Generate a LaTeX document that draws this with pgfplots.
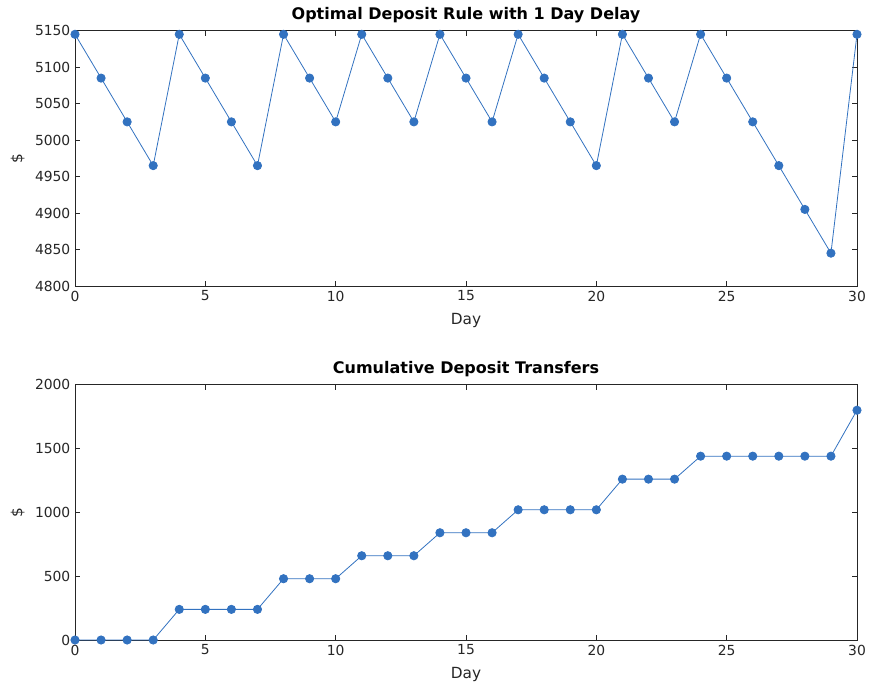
\documentclass[border=0pt]{standalone}
\usepackage{pgfplots}
\pgfplotsset{compat=1.18}
\usepackage{fontspec}
\setmainfont{DejaVu Sans}
\definecolor{ser}{RGB}{50,114,192}
\definecolor{axc}{RGB}{38,38,38}
\pgfplotsset{
  myax/.style={
    scale only axis, width=586.5pt, height=191.5pt,
    xmin=0, xmax=30, xtick={0,5,...,30},
    tick align=inside, major tick length=4pt,
    axis line style={axc, line width=0.6pt},
    every tick/.style={axc, line width=0.6pt},
    ticklabel style={font=\fontsize{10.4}{12}\selectfont, text=axc},
    label style={font=\fontsize{11.5}{13}\selectfont, text=axc},
    title style={font=\fontsize{12}{14}\selectfont\bfseries, yshift=-4pt},
    /pgf/number format/assume math mode=true,
    /pgf/number format/1000 sep={},
    xlabel={Day}, ylabel={\$},
    xlabel style={yshift=-2pt},
    ylabel style={yshift=1pt},
    clip=false,
  },
  myplot/.style={ser, line width=0.6pt, mark=*, mark size=3.1pt, mark options={fill=ser, draw=ser}},
}
\begin{document}
\begin{tikzpicture}
\useasboundingbox (0,0) rectangle (652.5pt,517.5pt);
\begin{axis}[myax, at={(56.25pt,303pt)}, anchor=south west,
  ymin=4800, ymax=5150, ytick={4800,4850,...,5150},
  title={Optimal Deposit Rule with 1 Day Delay}]
\addplot[myplot] coordinates {
(0,5145)(1,5085)(2,5025)(3,4965)(4,5145)(5,5085)(6,5025)(7,4965)(8,5145)(9,5085)
(10,5025)(11,5145)(12,5085)(13,5025)(14,5145)(15,5085)(16,5025)(17,5145)(18,5085)(19,5025)
(20,4965)(21,5145)(22,5085)(23,5025)(24,5145)(25,5085)(26,5025)(27,4965)(28,4905)(29,4845)(30,5145)};
\end{axis}
\begin{axis}[myax, at={(56.25pt,37.5pt)}, anchor=south west,
  ymin=0, ymax=2000, ytick={0,500,...,2000},
  title={Cumulative Deposit Transfers}]
\addplot[myplot] coordinates {
(0,0)(1,0)(2,0)(3,0)(4,240)(5,240)(6,240)(7,240)(8,480)(9,480)
(10,480)(11,660)(12,660)(13,660)(14,840)(15,840)(16,840)(17,1020)(18,1020)(19,1020)
(20,1020)(21,1260)(22,1260)(23,1260)(24,1440)(25,1440)(26,1440)(27,1440)(28,1440)(29,1440)(30,1800)};
\end{axis}
\end{tikzpicture}
\end{document}
